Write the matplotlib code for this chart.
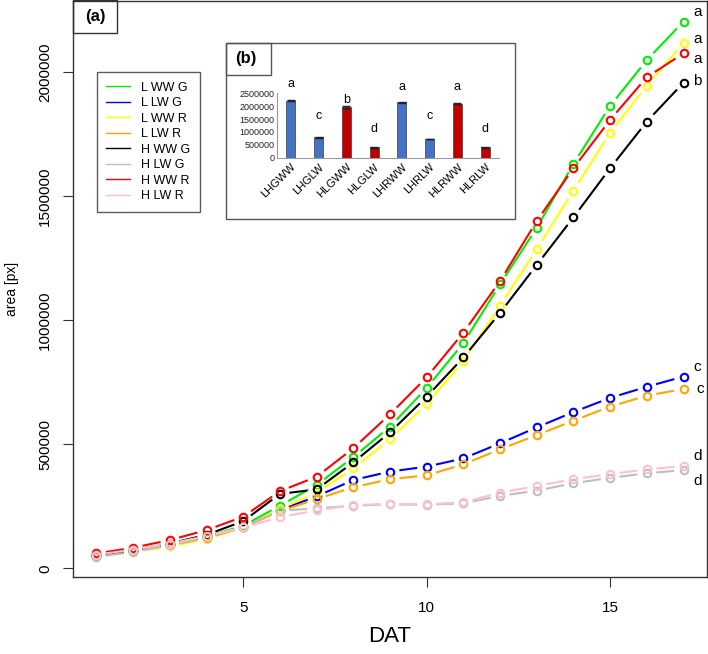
import numpy as np
import matplotlib
matplotlib.use("Agg")
import matplotlib.pyplot as plt
from matplotlib.lines import Line2D
from matplotlib.patches import Rectangle

plt.rcParams['font.family'] = ['Liberation Sans', 'DejaVu Sans']

days = list(range(1, 18))

l_ww_g = [55e3, 72e3, 97e3, 127e3, 172e3, 252e3, 336e3, 448e3, 571e3, 727e3,
          908e3, 1145e3, 1373e3, 1630e3, 1864e3, 2049e3, 2204e3]
l_lw_g = [52e3, 70e3, 95e3, 125e3, 168e3, 235e3, 290e3, 356e3, 390e3, 410e3,
          443e3, 504e3, 568e3, 630e3, 687e3, 732e3, 773e3]
l_ww_r = [50e3, 66e3, 88e3, 118e3, 165e3, 240e3, 305e3, 403e3, 520e3, 663e3,
          836e3, 1058e3, 1287e3, 1522e3, 1756e3, 1946e3, 2117e3]
l_lw_r = [50e3, 68e3, 93e3, 122e3, 165e3, 230e3, 279e3, 327e3, 359e3, 375e3,
          419e3, 480e3, 537e3, 595e3, 652e3, 696e3, 723e3]
h_ww_g = [48e3, 70e3, 100e3, 135e3, 190e3, 300e3, 318e3, 427e3, 548e3, 692e3,
          850e3, 1030e3, 1223e3, 1415e3, 1613e3, 1801e3, 1958e3]
h_lw_g = [46e3, 66e3, 94e3, 125e3, 168e3, 232e3, 242e3, 252e3, 258e3, 256e3,
          262e3, 292e3, 313e3, 343e3, 365e3, 383e3, 396e3]
h_ww_r = [60e3, 83e3, 114e3, 154e3, 208e3, 311e3, 369e3, 484e3, 621e3, 770e3,
          950e3, 1158e3, 1400e3, 1613e3, 1808e3, 1980e3, 2076e3]
h_lw_r = [55e3, 75e3, 100e3, 130e3, 165e3, 206e3, 234e3, 255e3, 259e3, 258e3,
          266e3, 305e3, 332e3, 359e3, 380e3, 399e3, 412e3]

series_names = ["L WW G", "L LW G", "L WW R", "L LW R",
                "H WW G", "H LW G", "H WW R", "H LW R"]
series_values = [l_ww_g, l_lw_g, l_ww_r, l_lw_r, h_ww_g, h_lw_g, h_ww_r, h_lw_r]
series_colors = ["#00EE00", "#0000FF", "#FFFF00", "#FFA500",
                 "#000000", "#BEBEBE", "#FF0000", "#FFC0CB"]
end_letters = ["a", "c", "a", "c", "b", "d", "a", "d"]

# inset (b)
bar_names = ["LHGWW", "LHGLW", "HLGWW", "HLGLW", "LHRWW", "LHRLW", "HLRWW", "HLRLW"]
bar_values = [2213e3, 792e3, 1968e3, 404e3, 2150e3, 726e3, 2096e3, 404e3]
bar_err = [25e3, 20e3, 25e3, 15e3, 25e3, 15e3, 20e3, 15e3]
bar_letters = ["a", "c", "b", "d", "a", "c", "a", "d"]
bar_letter_y = [2.85e6, 1.6e6, 2.25e6, 1.1e6, 2.75e6, 1.6e6, 2.75e6, 1.1e6]
bar_colors = ["#4472C4", "#4472C4", "#C00000", "#C00000",
              "#4472C4", "#4472C4", "#C00000", "#C00000"]

W, H = 708, 654
fig = plt.figure(figsize=(W / 100, H / 100), dpi=100)
ax = fig.add_axes([73 / W, (H - 577) / H, 634 / W, 576 / H])
XLIM = (0.36, 17.64)
YLIM = (-35000, 2287000)
ax.set_xlim(*XLIM)
ax.set_ylim(*YLIM)
ax.set_autoscale_on(False)

# pixels per data unit, from the axes box
sx = 634 / (XLIM[1] - XLIM[0])
sy = 576 / (YLIM[1] - YLIM[0])


def plot_b(ax, x, y, color, gap=9.5):
    # R style type="b": points joined by lines that stop short of the points
    x = np.asarray(x, float)
    y = np.asarray(y, float)
    for i in range(len(x) - 1):
        dx = (x[i + 1] - x[i]) * sx
        dy = (y[i + 1] - y[i]) * sy
        L = np.hypot(dx, dy)
        if L <= 2 * gap:
            continue
        f = gap / L
        xa, ya = x[i] + (x[i + 1] - x[i]) * f, y[i] + (y[i + 1] - y[i]) * f
        xb, yb = x[i + 1] - (x[i + 1] - x[i]) * f, y[i + 1] - (y[i + 1] - y[i]) * f
        ax.plot([xa, xb], [ya, yb], color=color, lw=1.5, solid_capstyle='butt')
    ax.plot(x, y, ls='none', marker='o', ms=5.4, mfc='none', mec=color, mew=1.5)


for vals, col in zip(series_values, series_colors):
    plot_b(ax, days, vals, col)

nudges = [(7, 7), (7, 7), (7, 3), (9, 0), (7, 1), (7, -8), (7, -4), (7, 7)]
for vals, let, (dx, dy) in zip(series_values, end_letters, nudges):
    ax.annotate(let, (days[-1], vals[-1]), xytext=(dx, dy), textcoords='offset points',
                ha='left', va='center', fontsize=11, annotation_clip=False)

ax.set_xticks([5, 10, 15])
ax.set_yticks([0, 500000, 1000000, 1500000, 2000000])
ax.set_yticklabels(["0", "500000", "1000000", "1500000", "2000000"],
                   rotation=90, va='center')
ax.tick_params(axis='both', length=7, width=0.8, labelsize=11, color='#333333')
ax.tick_params(axis='x', pad=10)
ax.tick_params(axis='y', pad=8)
for s in ax.spines.values():
    s.set_linewidth(1.0)
    s.set_color('#333333')
ax.set_xlabel("DAT", fontsize=16, labelpad=8)
ax.set_ylabel("area [px]", fontsize=10, labelpad=14)

# (a) label box
fig.patches.append(Rectangle((73 / W, 1 - 33 / H), 44 / W, 33 / H, transform=fig.transFigure,
                             fill=False, ec='#333333', lw=1.0))
fig.text(95 / W, 1 - 17 / H, "(a)", fontsize=12, fontweight='bold', ha='center', va='center')

# legend
handles = [Line2D([], [], color=c, lw=1.0) for c in series_colors]
leg = ax.legend(handles, series_names, loc='upper left',
                bbox_to_anchor=(96.7 / W, 1 - 72.3 / H), bbox_transform=fig.transFigure,
                fontsize=9, frameon=True, fancybox=False, edgecolor='#333333',
                handlelength=1.9, handletextpad=0.9, labelspacing=0.28,
                borderpad=0.75, borderaxespad=0)
leg.get_frame().set_linewidth(1.0)

# inset (b)
ax2 = fig.add_axes([277 / W, (H - 157.7) / H, 222 / W, 64.4 / H])
ax2.set_zorder(5)
ax2.add_patch(Rectangle((226 / W, 1 - 219 / H), 289 / W, 176 / H, transform=fig.transFigure,
                        fc='white', ec='#555555', lw=1.0, clip_on=False, zorder=0))
ax2.add_patch(Rectangle((226 / W, 1 - 75 / H), 45 / W, 32 / H, transform=fig.transFigure,
                        fill=False, ec='#555555', lw=1.0, clip_on=False, zorder=0.5))
ax2.text(246 / W, 1 - 59 / H, "(b)", transform=fig.transFigure, fontsize=12,
         fontweight='bold', ha='center', va='center')

pos = np.arange(len(bar_names))
ax2.bar(pos, bar_values, width=0.33, color=bar_colors, edgecolor='#3a3a3a', linewidth=0.5,
        zorder=2)
ax2.errorbar(pos, bar_values, yerr=bar_err, fmt='none', ecolor='#222222', capsize=3,
             elinewidth=0.8, zorder=3)
for p, let, ly in zip(pos, bar_letters, bar_letter_y):
    ax2.text(p, ly, let, ha='center', va='center', fontsize=9, clip_on=False)
ax2.set_xlim(-0.5, 7.5)
ax2.set_ylim(0, 2500000)
ax2.set_yticks([0, 500000, 1000000, 1500000, 2000000, 2500000])
ax2.set_yticklabels(["0", "500000", "1000000", "1500000", "2000000", "2500000"])
ax2.set_xticks(pos)
ax2.set_xticklabels(bar_names, rotation=45, ha='right', rotation_mode='anchor')
ax2.tick_params(axis='y', length=0, pad=2, labelsize=6.5, labelcolor='#222222')
ax2.tick_params(axis='x', length=0, pad=3, labelsize=8)
ax2.patch.set_alpha(0)
for side in ['top', 'right']:
    ax2.spines[side].set_visible(False)
ax2.spines['left'].set_color('#999999')
ax2.spines['bottom'].set_color('#999999')
ax2.spines['left'].set_zorder(4)
ax2.spines['bottom'].set_zorder(4)

fig.savefig("out.png", dpi=100)
